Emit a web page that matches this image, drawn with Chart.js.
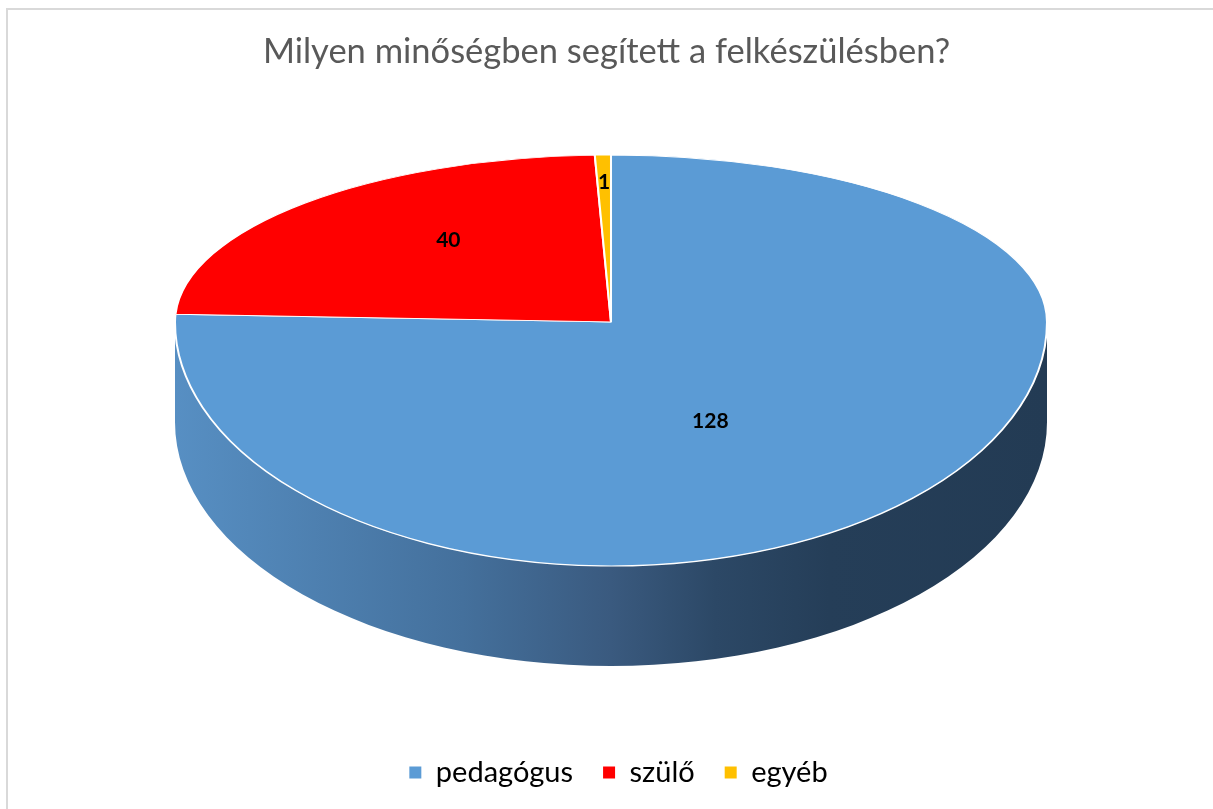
<!DOCTYPE html>
<html>
<head>
<meta charset="utf-8">
<script src="https://cdn.jsdelivr.net/npm/chart.js@4.4.1/dist/chart.umd.min.js"></script>
<style>
  html, body { margin: 0; padding: 0; background: #ffffff; }
  #wrap { width: 1213px; height: 809px; position: relative; }
</style>
</head>
<body>
<div id="wrap"><canvas id="c"></canvas></div>
<script>
// ---- data ----
const chartTitle = 'Milyen minőségben segített a felkészülésben?';
const categories = ['pedagógus', 'szülő', 'egyéb'];
const values = [128, 40, 1];

// ---- style ----
const sliceColors = ['#5B9BD5', '#FF0000', '#FFC000'];
const FONT = 'Lato, "Liberation Sans", sans-serif';
// 3D look: screen placement of the pie top face and extrusion depth
const PIE = { cx: 611, cy: 322, rx: 436, rFar: 167, rNear: 244, depth: 100 };
// label anchor as fraction of (projected) radius along the slice mid-angle
const LABEL_POS = [{ fx: 0.33, fy: 0.56 }, { fx: 0.53, fy: 0.69 }, { fx: 0.84, fy: 0.84 }];
const LEGEND_SHIFT_X = 12;

function sideFill(ctx, i) {
  if (i === 0) {
    const g = ctx.createLinearGradient(PIE.cx - PIE.rx, 0, PIE.cx + PIE.rx, 0);
    g.addColorStop(0.00, '#578fc3');
    g.addColorStop(0.33, '#44709c');
    g.addColorStop(0.50, '#3a5a7f');
    g.addColorStop(0.62, '#2c4866');
    g.addColorStop(0.75, '#253e58');
    g.addColorStop(1.00, '#233b54');
    return g;
  }
  return i === 1 ? '#8a0000' : '#8a6800';
}

function visibleSegments(a, b) {
  const out = [];
  for (let k = -1; k <= 1; k++) {
    const s = Math.max(a, 2 * Math.PI * k);
    const e = Math.min(b, 2 * Math.PI * k + Math.PI);
    if (e > s) out.push([s, e]);
  }
  return out;
}

const pie3d = {
  id: 'pie3d',
  afterLayout(chart) {
    if (chart.legend) {
      chart.legend.left += LEGEND_SHIFT_X;
      chart.legend.right += LEGEND_SHIFT_X;
    }
  },
  beforeDraw(chart) {
    const ctx = chart.ctx;
    ctx.save();
    ctx.strokeStyle = '#d9d9d9';
    ctx.lineWidth = 2;
    ctx.beginPath();
    ctx.moveTo(7, chart.height);
    ctx.lineTo(7, 9);
    ctx.lineTo(chart.width, 9);
    ctx.stroke();
    ctx.restore();
  },
  beforeDatasetsDraw(chart) {
    const ctx = chart.ctx;
    const meta = chart.getDatasetMeta(0);
    meta.data.forEach((arc, i) => {
      visibleSegments(arc.startAngle, arc.endAngle).forEach(([s, e]) => {
        ctx.save();
        ctx.beginPath();
        ctx.ellipse(PIE.cx, PIE.cy, PIE.rx, PIE.rNear, 0, s, e, false);
        ctx.ellipse(PIE.cx, PIE.cy + PIE.depth, PIE.rx, PIE.rNear, 0, e, s, true);
        ctx.closePath();
        ctx.fillStyle = sideFill(ctx, i);
        ctx.fill();
        ctx.restore();
      });
    });
  },
  beforeDatasetDraw(chart, args) {
    const ctx = chart.ctx;
    const meta = args.meta;
    const a0 = meta.data[0];
    const ox = a0.x, oy = a0.y, R = a0.outerRadius;
    [[0, PIE.cy, PIE.rFar], [PIE.cy, chart.height, PIE.rNear]].forEach(([y0, y1, ry]) => {
      ctx.save();
      ctx.beginPath();
      ctx.rect(0, y0, chart.width, y1 - y0);
      ctx.clip();
      ctx.translate(PIE.cx, PIE.cy);
      ctx.scale(PIE.rx / R, ry / R);
      ctx.translate(-ox, -oy);
      meta.controller.draw();
      ctx.restore();
    });
    return false;
  },
  afterDatasetsDraw(chart) {
    const ctx = chart.ctx;
    const meta = chart.getDatasetMeta(0);
    ctx.save();
    ctx.fillStyle = '#000000';
    ctx.font = 'bold 21px ' + FONT;
    ctx.textAlign = 'center';
    ctx.textBaseline = 'middle';
    meta.data.forEach((arc, i) => {
      const m = (arc.startAngle + arc.endAngle) / 2;
      const c = Math.cos(m), s = Math.sin(m);
      const p = LABEL_POS[i];
      const x = PIE.cx + PIE.rx * p.fx * c;
      const y = PIE.cy + (s < 0 ? PIE.rFar : PIE.rNear) * p.fy * s;
      ctx.fillText(String(values[i]), x, y);
    });
    ctx.restore();
  }
};

new Chart(document.getElementById('c'), {
  type: 'pie',
  data: {
    labels: categories,
    datasets: [{
      data: values,
      backgroundColor: sliceColors,
      borderColor: '#ffffff',
      borderWidth: 1.5
    }]
  },
  options: {
    responsive: true,
    maintainAspectRatio: false,
    animation: false,
    events: [],
    layout: { padding: { top: 0, bottom: 12, left: 0, right: 0 } },
    plugins: {
      title: {
        display: true,
        text: chartTitle,
        color: '#595959',
        font: { family: FONT, size: 34.5, weight: 'normal' },
        padding: { top: 31, bottom: 10 }
      },
      legend: {
        position: 'bottom',
        labels: {
          color: '#595959',
          font: { family: FONT, size: 29 },
          boxWidth: 12,
          boxHeight: 12,
          padding: 30,
          generateLabels(chart) {
            return categories.map((name, i) => ({
              text: name,
              fillStyle: sliceColors[i],
              strokeStyle: sliceColors[i],
              lineWidth: 0,
              hidden: false,
              index: i
            }));
          }
        }
      },
      tooltip: { enabled: false }
    }
  },
  plugins: [pie3d]
});
</script>
</body>
</html>
